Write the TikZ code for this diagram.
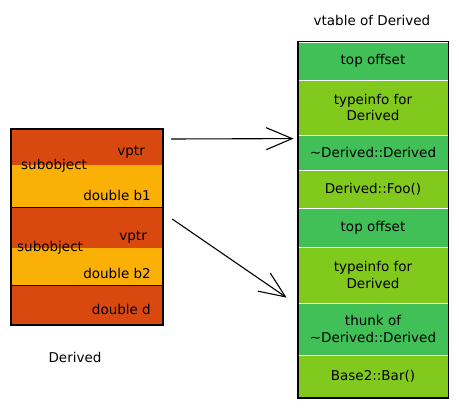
\documentclass[tikz,border=0pt]{standalone}
\usepackage{fontspec}
\setmainfont{DejaVu Sans}
\usetikzlibrary{arrows.meta,calc,positioning}
\definecolor{objred}{HTML}{D9480F}
\definecolor{objyellow}{HTML}{FAB005}
\definecolor{vtgreen}{HTML}{40C057}
\definecolor{vtlime}{HTML}{82C91E}

\begin{document}
\begin{tikzpicture}[x=1pt,y=-1pt,
	every node/.style={font=\fontsize{13.5}{16.5}\selectfont},
	field/.style={rectangle, inner sep=0pt, minimum width=152pt},
	slot/.style={rectangle, inner sep=0pt, minimum width=150pt, align=center, draw=white, line width=0.8pt},
	tag/.style={inner sep=1pt},
	ptr/.style={-{Straight Barb[length=26pt,width=22pt]}, line width=1.1pt}
]
	\useasboundingbox (0,0) rectangle (459,409);

	% Derived object
	\foreach \name/\top/\bot/\col in {vptrA/129/165/objred, baseA/165/207/objyellow,
		vptrB/207/248/objred, baseB/248/285/objyellow, own/285/325/objred}{
	\node[field, fill=\col, minimum height={(\bot-\top)*1pt}] (\name) at (87,{(\top+\bot)/2}) {};
	}
	\draw[line width=1.8pt] (vptrA.north west) rectangle (own.south east);
	\draw[line width=1pt] (baseA.south west) -- (baseA.south east);
	\draw[line width=1pt] (baseB.south west) -- (baseB.south east);
	%
	% Annotations
	\node[tag, anchor=east] (vptrAtxt) at (146,152) {vptr};
	\node[tag, anchor=west] (subAtxt) at (20,166) {subobject};
	\node[tag, anchor=east] (b1txt) at (152,195) {double b1};
	\node[tag, anchor=east] (vptrBtxt) at (148,237) {vptr};
	\node[tag, anchor=west] (subBtxt) at (16,248) {subobject};
	\node[tag, anchor=east] (b2txt) at (152,273) {double b2};
	\node[tag, anchor=east] (dtxt) at (152,309) {double d};
	\node (objname) at (75,357) {Derived};

	% vtable
	\foreach \name/\top/\bot/\col/\txt in {offA/42/80/vtgreen/top offset,
		rttiA/80/135/vtlime/typeinfo for\\Derived,
		dtor/135/170/vtgreen/\textasciitilde Derived::Derived,
		foo/170/208/vtlime/Derived::Foo(),
		offB/208/247/vtgreen/top offset,
		rttiB/247/303/vtlime/typeinfo for\\Derived,
		thunk/303/355/vtgreen/thunk of\\\textasciitilde Derived::Derived,
		bar/355/398/vtlime/Base2::Bar()}{
	\node[slot, fill=\col, minimum height={(\bot-\top)*1pt}] (\name) at (373,{(\top+\bot)/2}) {\txt};
	}
	\draw[line width=1.8pt] (offA.north west) rectangle (bar.south east);
	\node (vtname) at (372,20) {vtable of Derived};

	% pointers
	\coordinate (fromA) at ($(vptrA.east)+(8,-8)$);
	\coordinate (toA) at ($(dtor.north west)+(-4,4)$);
	\coordinate (fromB) at ($(vptrB.east)+(9,-8.5)$);
	\coordinate (toB) at ($(thunk.north west)+(-11,-5)$);
	\draw[ptr] (fromA) -- (toA);
	\draw[ptr] (fromB) -- (toB);

\end{tikzpicture}
\end{document}
